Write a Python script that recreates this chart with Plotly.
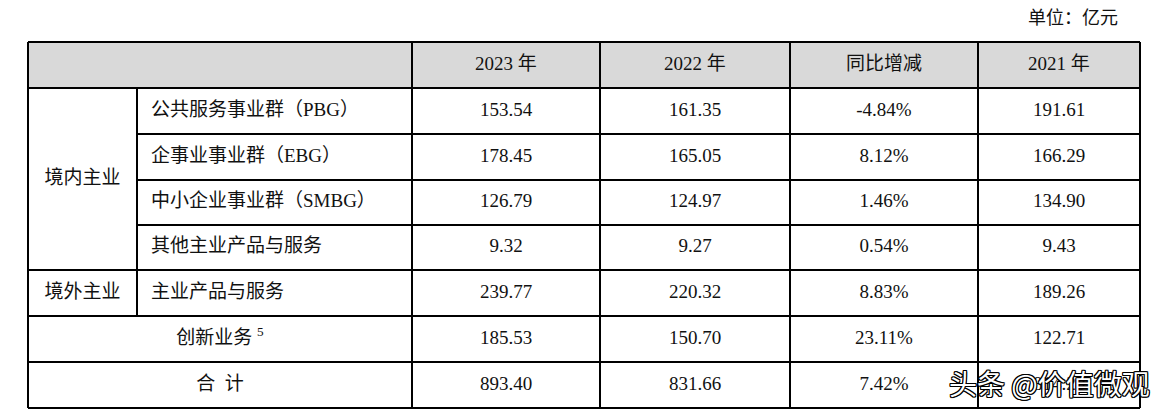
import plotly.graph_objects as go

# table data
headers = ["2023 年", "2022 年", "同比增减", "2021 年"]
groups = ["境内主业", "境外主业"]
items = ["公共服务事业群（PBG）", "企事业事业群（EBG）", "中小企业事业群（SMBG）",
         "其他主业产品与服务", "主业产品与服务", "创新业务 <sup>5</sup>", "合  计"]
v2023 = ["153.54", "178.45", "126.79", "9.32", "239.77", "185.53", "893.40"]
v2022 = ["161.35", "165.05", "124.97", "9.27", "220.32", "150.70", "831.66"]
yoy = ["-4.84%", "8.12%", "1.46%", "0.54%", "8.83%", "23.11%", "7.42%"]
v2021 = ["191.61", "166.29", "134.90", "9.43", "189.26", "122.71", "814.20"]
unit = "单位：亿元"
watermark = "头条 @价值微观"

# layout geometry (pixels in the page; the page body adds an 8px margin)
W, H = 1163, 418
OFF = 8
xe = [28, 137, 412, 600, 790, 978, 1140]
ye = [42, 88, 134, 180, 225, 270, 316, 362, 408]
FONT = "Liberation Serif, Times New Roman, Noto Sans CJK SC"
LW = 2

fig = go.Figure()
shapes = []
# header background
shapes.append(dict(type="rect", x0=xe[0], x1=xe[-1], y0=ye[0], y1=ye[1],
                   fillcolor="#d9d9d9", line_width=0, layer="below"))


def hline(y, x0, x1):
    shapes.append(dict(type="line", x0=x0, x1=x1, y0=y, y1=y,
                       line=dict(color="black", width=LW)))


def vline(x, y0, y1):
    shapes.append(dict(type="line", x0=x, x1=x, y0=y0, y1=y1,
                       line=dict(color="black", width=LW)))


# horizontal rules
hline(ye[0], xe[0], xe[-1])
hline(ye[1], xe[0], xe[-1])
for i in (2, 3, 4):
    hline(ye[i], xe[1], xe[-1])
for i in (5, 6, 7, 8):
    hline(ye[i], xe[0], xe[-1])
# vertical rules
vline(xe[0], ye[0], ye[-1])
vline(xe[1], ye[1], ye[6])
for x in xe[2:]:
    vline(x, ye[0], ye[-1])

mid = lambda a, b: (a + b) / 2
cy = [mid(ye[i + 1], ye[i + 2]) for i in range(len(items))]
tf = dict(family=FONT, size=19, color="#111")

# header text
fig.add_trace(go.Scatter(
    x=[mid(xe[j + 2], xe[j + 3]) for j in range(len(headers))],
    y=[mid(ye[0], ye[1])] * len(headers),
    text=headers, mode="text", textposition="middle center",
    textfont=tf, hoverinfo="skip"))

# value columns
for j, col in enumerate([v2023, v2022, yoy, v2021]):
    fig.add_trace(go.Scatter(
        x=[mid(xe[j + 2], xe[j + 3])] * len(col), y=cy, text=col,
        mode="text", textposition="middle center",
        textfont=tf, hoverinfo="skip"))

# item labels (first five left aligned in col 2, last two centered across)
fig.add_trace(go.Scatter(
    x=[xe[1] + 14] * 5, y=cy[:5], text=items[:5], mode="text",
    textposition="middle right", textfont=tf, hoverinfo="skip"))
fig.add_trace(go.Scatter(
    x=[mid(xe[0], xe[2])] * 2, y=cy[5:], text=items[5:], mode="text",
    textposition="middle center", textfont=tf, hoverinfo="skip"))

# group labels
fig.add_trace(go.Scatter(
    x=[mid(xe[0], xe[1])] * 2, y=[mid(ye[1], ye[5]), cy[4]], text=groups,
    mode="text", textposition="middle center", textfont=tf, hoverinfo="skip"))

fig.add_annotation(x=1120, y=18, text=unit, showarrow=False, xanchor="right",
                   font=dict(family=FONT, size=18, color="#111"))

outline = ", ".join(f"{dx}px {dy}px 0 #000" for dx in (-1, 0, 1) for dy in (-1, 0, 1)
                    if dx or dy)
fig.add_annotation(x=1152, y=383, text=watermark, showarrow=False, xanchor="right",
                   font=dict(family="Noto Sans CJK SC", size=28, color="white",
                             shadow=outline))

fig.update_layout(
    width=W, height=H, margin=dict(l=0, r=0, t=0, b=0),
    paper_bgcolor="white", plot_bgcolor="white", showlegend=False,
    shapes=shapes,
    xaxis=dict(range=[OFF, W + OFF], visible=False, fixedrange=True),
    yaxis=dict(range=[H + OFF, OFF], visible=False, fixedrange=True),
)

fig.write_html("out.html")
